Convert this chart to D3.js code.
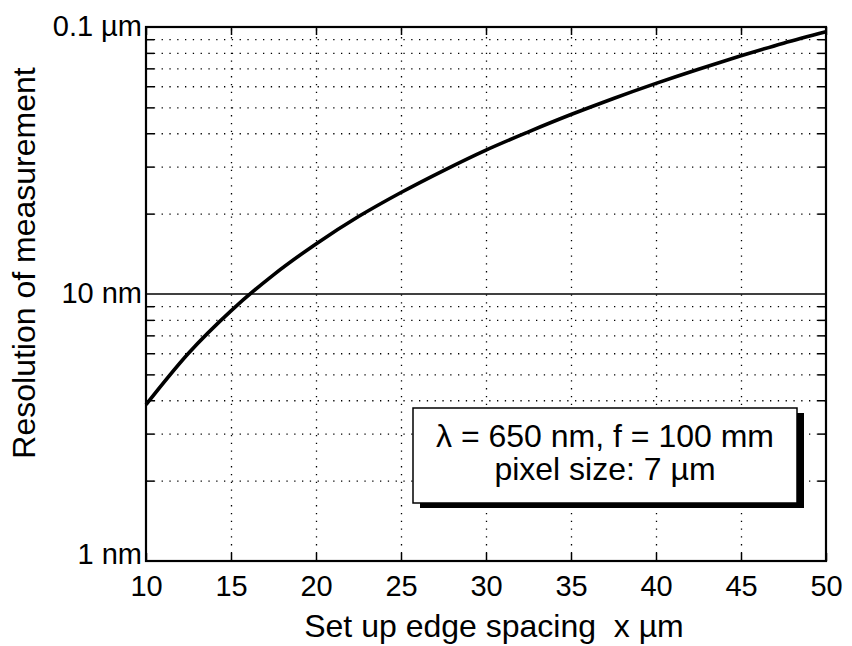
<!DOCTYPE html>
<html>
<head>
<meta charset="utf-8">
<script src="https://cdn.jsdelivr.net/npm/d3@7"></script>
<style>
    body { margin: 0; background: #fff; }
    text { font-family: "Liberation Sans", Arial, Helvetica, sans-serif; fill: #000; }
    .grid line { stroke: #000; stroke-width: 1.3; stroke-dasharray: 1.3,6.5; }
    .grid path { display: none; }
    .ticks path { display: none; }
    .ticks line { stroke: #000; stroke-width: 1.5; }
    .tickLabels path, .tickLabels line { display: none; }
    .tickLabels text { font-size: 29px; }
    .yLabels text { font-size: 29px; }
</style>
</head>
<body>
<script>
//chart data
var edgeSpacing = [10, 12.5, 15, 17.5, 20, 22.5, 25, 27.5, 30, 32.5, 35, 37.5, 40, 42.5, 45, 47.5, 50]; //x in µm
var resolution = [3.85, 6.0, 8.65, 11.8, 15.4, 19.5, 24, 29, 34.6, 40.5, 47, 54, 61.5, 69.5, 78, 87, 96]; //nm

var xTickValues = [10, 15, 20, 25, 30, 35, 40, 45, 50];
var yTickValues = [1, 10, 100];
var yTickLabels = ["1 nm", "10 nm", "0.1 µm"];
var yMinorValues = [2, 3, 4, 5, 6, 7, 8, 9, 20, 30, 40, 50, 60, 70, 80, 90];
var legendLines = ["λ = 650 nm, f = 100 mm", "pixel size: 7 µm"];

(function (){

    var width = 852,
        height = 646,
        left = 146,
        right = 826,
        top = 27,
        bottom = 561;

    var svg = d3.select("body")
        .append("svg")
        .attr("width", width)
        .attr("height", height);

    //scales
    var x = d3.scaleLinear()
        .domain([10, 50])
        .range([left, right]);

    var y = d3.scaleLog()
        .domain([1, 100])
        .range([bottom, top]);

    var innerW = right - left,
        innerH = bottom - top;

    //dotted grid lines
    svg.append("g")
        .attr("class", "grid")
        .attr("transform", "translate(0," + bottom + ")")
        .call(d3.axisBottom(x).tickValues(xTickValues.slice(1, -1)).tickSize(-innerH).tickFormat(""));

    svg.append("g")
        .attr("class", "grid")
        .attr("transform", "translate(" + left + ",0)")
        .call(d3.axisLeft(y).tickValues(yMinorValues).tickSize(-innerW).tickFormat(""));

    //the 10 nm line is solid
    svg.append("line")
        .attr("x1", left)
        .attr("x2", right)
        .attr("y1", y(10))
        .attr("y2", y(10))
        .attr("stroke", "#000")
        .attr("stroke-width", 1.5);

    //inward tick marks on all four sides
    var tickLen = 8;
    svg.append("g")
        .attr("class", "ticks")
        .attr("transform", "translate(" + left + ",0)")
        .call(d3.axisLeft(y).tickValues(yMinorValues).tickSize(-tickLen).tickFormat(""));

    svg.append("g")
        .attr("class", "ticks")
        .attr("transform", "translate(" + right + ",0)")
        .call(d3.axisRight(y).tickValues(yMinorValues).tickSize(-tickLen).tickFormat(""));

    svg.append("g")
        .attr("class", "ticks")
        .attr("transform", "translate(0," + top + ")")
        .call(d3.axisTop(x).tickValues(xTickValues).tickSize(-tickLen).tickFormat(""));

    svg.append("g")
        .attr("class", "ticks")
        .attr("transform", "translate(0," + bottom + ")")
        .call(d3.axisBottom(x).tickValues(xTickValues).tickSize(-tickLen).tickFormat(""));

    //tick labels
    svg.append("g")
        .attr("class", "tickLabels")
        .attr("transform", "translate(0," + bottom + ")")
        .call(d3.axisBottom(x).tickValues(xTickValues).tickSize(0).tickPadding(14));

    var yAxis = svg.append("g")
        .attr("class", "tickLabels yLabels")
        .attr("transform", "translate(" + (left - 4) + ",0)")
        .call(d3.axisLeft(y).tickValues(yTickValues).tickSize(0).tickPadding(0)
            .tickFormat(function(d, i){ return yTickLabels[i]; }));

    //lift the bottom label a little so it clears the "10" below it
    yAxis.selectAll("text")
        .attr("dy", function(d){ return d === 1 ? "0.08em" : "0.3em"; });

    //the curve
    var line = d3.line()
        .x(function(d){ return x(d[0]); })
        .y(function(d){ return y(d[1]); })
        .curve(d3.curveMonotoneX);

    svg.append("path")
        .datum(d3.zip(edgeSpacing, resolution))
        .attr("fill", "none")
        .attr("stroke", "#000")
        .attr("stroke-width", 3.6)
        .attr("d", line);

    //plot frame
    svg.append("rect")
        .attr("x", left)
        .attr("y", top)
        .attr("width", innerW)
        .attr("height", innerH)
        .attr("fill", "none")
        .attr("stroke", "#000")
        .attr("stroke-width", 2.2);

    //legend box with drop shadow
    var box = { x: 413, y: 408, w: 384, h: 95 };
    svg.append("rect")
        .attr("x", box.x + 7)
        .attr("y", box.y + 5)
        .attr("width", box.w)
        .attr("height", box.h)
        .attr("fill", "#000");

    svg.append("rect")
        .attr("x", box.x)
        .attr("y", box.y)
        .attr("width", box.w)
        .attr("height", box.h)
        .attr("fill", "#fff")
        .attr("stroke", "#000")
        .attr("stroke-width", 1.5);

    svg.selectAll(".legendText")
        .data(legendLines)
        .enter()
        .append("text")
        .attr("class", "legendText")
        .attr("x", box.x + box.w / 2)
        .attr("y", function(d, i){ return 447 + i * 33; })
        .attr("text-anchor", "middle")
        .style("font-size", "32px")
        .text(function(d){ return d; });

    //axis titles
    svg.append("text")
        .attr("x", 494)
        .attr("y", 637)
        .attr("text-anchor", "middle")
        .style("font-size", "32px")
        .text("Set up edge spacing\u00a0\u00a0x µm");

    svg.append("text")
        .attr("transform", "translate(35,263) rotate(-90)")
        .attr("text-anchor", "middle")
        .style("font-size", "32px")
        .text("Resolution of measurement");

})();
</script>
</body>
</html>
